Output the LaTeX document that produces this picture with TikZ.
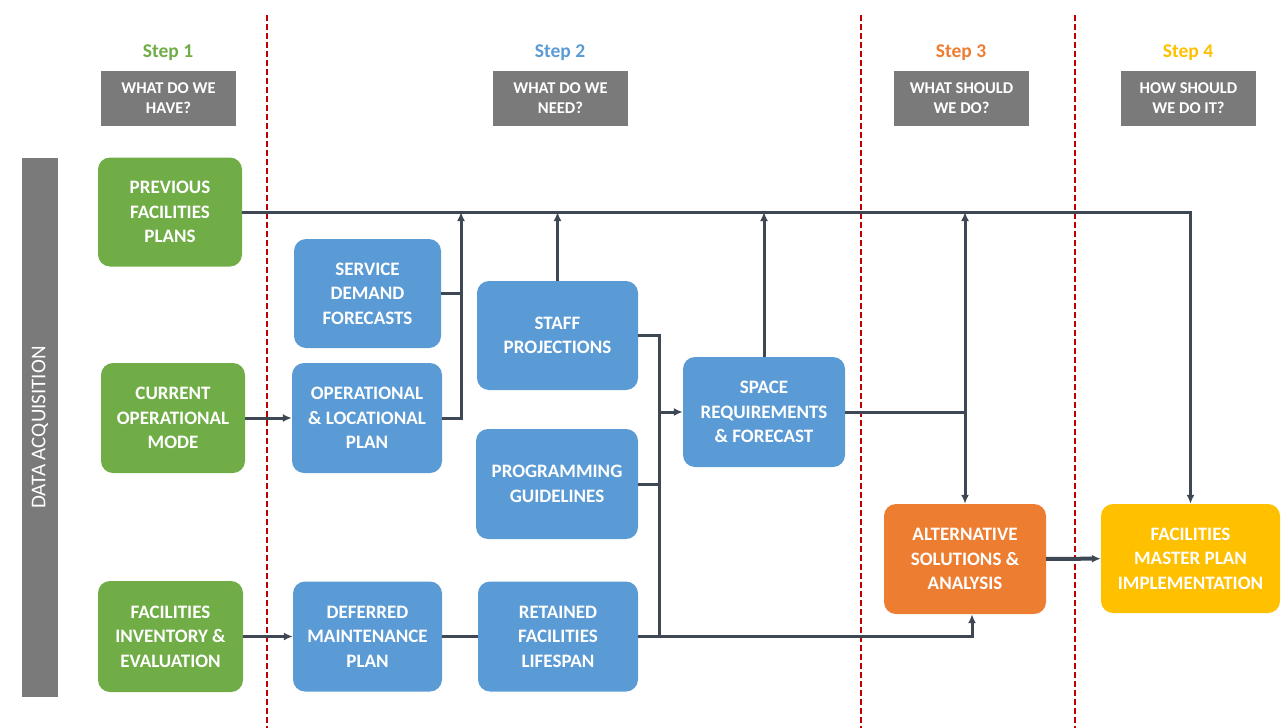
\documentclass[tikz,border=0pt]{standalone}
\usepackage{fontspec}
\setmainfont{Carlito}
\usetikzlibrary{arrows.meta}
\definecolor{boxgreen}{HTML}{70AD47}
\definecolor{boxblue}{HTML}{5B9BD5}
\definecolor{boxorange}{HTML}{ED7D31}
\definecolor{boxgold}{HTML}{FFC000}
\definecolor{headgray}{HTML}{7A7A7A}
\definecolor{linegray}{HTML}{3E4855}
\definecolor{cutred}{HTML}{C00000}
\tikzset{
    stagebox/.style={rounded corners=12pt, text=white, align=center,
        font=\fontsize{19}{24.5}\selectfont\bfseries, inner sep=2pt},
    headbox/.style={fill=headgray, text=white, align=center, minimum width=135pt,
        minimum height=55pt, font=\fontsize{16.5}{20}\selectfont\bfseries},
    steptext/.style={font=\fontsize{19.5}{20}\selectfont\bfseries},
    link/.style={draw=linegray, line width=3pt},
    tip/.style={-{Latex[length=9pt,width=8pt]}},
    cut/.style={draw=cutred, line width=2pt, dash pattern=on 6pt off 3pt},
}
\begin{document}
\begin{tikzpicture}[x=1pt,y=-1pt]
    \useasboundingbox (0,0) rectangle (1288,728);
    % stage separators
    \foreach \xs in {267,861,1075}
        \draw[cut] (\xs,15) -- (\xs,728);
    % step titles
    \node[steptext, text=boxgreen] (s1) at (168,53) {Step 1};
    \node[steptext, text=boxblue] (s2) at (560,53) {Step 2};
    \node[steptext, text=boxorange] (s3) at (961,53) {Step 3};
    \node[steptext, text=boxgold] (s4) at (1188,53) {Step 4};
    \node[headbox] (h1) at (168.5,98.5) {WHAT DO WE\\HAVE?};
    \node[headbox] (h2) at (560.5,98.5) {WHAT DO WE\\NEED?};
    \node[headbox] (h3) at (961.5,98.5) {WHAT SHOULD\\WE DO?};
    \node[headbox] (h4) at (1188.5,98.5) {HOW SHOULD\\WE DO IT?};
    % side bar
    \node[fill=headgray, minimum width=36pt, minimum height=539pt, inner sep=0pt] (acq) at (40,427.5) {};
    \node[rotate=90, text=white, font=\fontsize{21}{22}\selectfont] (acqtext) at (acq) {DATA ACQUISITION};
    % step 1
    \node[stagebox, fill=boxgreen, minimum width=144pt, minimum height=109pt] (prev) at (170,212) {PREVIOUS\\FACILITIES\\PLANS};
    \node[stagebox, fill=boxgreen, minimum width=144pt, minimum height=110pt] (curr) at (173,418) {CURRENT\\OPERATIONAL\\MODE};
    \node[stagebox, fill=boxgreen, minimum width=145pt, minimum height=111pt] (inv) at (170.5,636.5) {FACILITIES\\INVENTORY \&\\EVALUATION};
    % step 2
    \node[stagebox, fill=boxblue, minimum width=147pt, minimum height=109pt] (serv) at (367.5,293.5) {SERVICE\\DEMAND\\FORECASTS};
    \node[stagebox, fill=boxblue, minimum width=150pt, minimum height=110pt] (oper) at (367,418) {OPERATIONAL\\\& LOCATIONAL\\PLAN};
    \node[stagebox, fill=boxblue, minimum width=149pt, minimum height=110pt] (defer) at (367.5,636.5) {DEFERRED\\MAINTENANCE\\PLAN};
    \node[stagebox, fill=boxblue, minimum width=161pt, minimum height=109pt] (staff) at (557.5,335.5) {STAFF\\PROJECTIONS};
    \node[stagebox, fill=boxblue, minimum width=162pt, minimum height=110pt] (prog) at (557,484) {PROGRAMMING\\GUIDELINES};
    \node[stagebox, fill=boxblue, minimum width=160pt, minimum height=110pt] (ret) at (558,636.5) {RETAINED\\FACILITIES\\LIFESPAN};
    \node[stagebox, fill=boxblue, minimum width=162pt, minimum height=110pt] (space) at (764,412) {SPACE\\REQUIREMENTS\\\& FORECAST};
    % steps 3 and 4
    \node[stagebox, fill=boxorange, minimum width=162pt, minimum height=110pt] (alt) at (965,559) {ALTERNATIVE\\SOLUTIONS \&\\ANALYSIS};
    \node[stagebox, fill=boxgold, minimum width=179pt, minimum height=109pt] (master) at (1190.5,558.5) {FACILITIES\\MASTER PLAN\\IMPLEMENTATION};
    % junction columns
    \coordinate (j1) at (461,0);
    \coordinate (j2) at (659,0);
    % connectors
    \draw[link, tip] (prev.east) -| (master.north);
    \draw[link] (serv.east) -- (serv.east -| j1);
    \draw[link, tip] (oper.east) -| (prev.east -| j1);
    \draw[link, tip] (staff.north) -- (staff.north |- prev.east);
    \draw[link, tip] (space.north) -- (space.north |- prev.east);
    \draw[link] (space.east) -- (space.east -| alt.north);
    \draw[link, {Latex[length=9pt,width=8pt]}-{Latex[length=9pt,width=8pt]}] (prev.east -| alt.north) -- (alt.north);
    \draw[link, tip] (curr) -- (oper);
    \draw[link, tip] (inv) -- (defer);
    \draw[link] (defer) -- (ret);
    \draw[link] (staff.east) -| (ret.east -| j2);
    \draw[link] (prog.east) -- (prog.east -| j2);
    \draw[link, tip] (space.west -| j2) -- (space.west);
    \draw[link, tip] (ret.east) -| ([xshift=7pt]alt.south);
    \draw[link, line width=4pt, tip] (alt) -- (master);
\end{tikzpicture}
\end{document}
